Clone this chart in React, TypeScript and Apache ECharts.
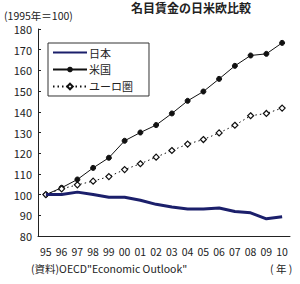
import React, { useEffect, useRef } from "react";
import * as echarts from "echarts";

const years = ["95", "96", "97", "98", "99", "00", "01", "02", "03", "04", "05", "06", "07", "08", "09", "10"];
const japan = [100, 100, 101.2, 100, 98.7, 98.7, 97.3, 95.3, 94, 93, 93, 93.5, 91.8, 91.2, 88.3, 89.3];
const usa = [100, 103.3, 107.3, 112.9, 117.8, 126, 130, 133.6, 139.2, 145.3, 149.8, 155.9, 162.2, 167.2, 168, 173.3];
const euro = [100, 102.8, 104.7, 106.5, 108.7, 112.1, 114.9, 118.1, 121.3, 124.4, 126.6, 129.8, 133.5, 138.1, 139.2, 141.8];
const yTicks = { min: 80, max: 180, interval: 10 };

const FONT = "'Noto Sans CJK JP', 'Noto Sans', sans-serif";

export default function App() {
  const ref = useRef<HTMLDivElement>(null);
  useEffect(() => {
    if (!ref.current) return;
    const chart = echarts.init(ref.current, null, { renderer: "svg" });
    chart.setOption({
      animation: false,
      backgroundColor: "#ffffff",
      textStyle: { fontFamily: FONT },
      title: {
        text: "名目賃金の日米欧比較",
        left: 191,
        textAlign: "center",
        top: 1,
        padding: 0,
        textStyle: { fontSize: 12, fontWeight: "bold", color: "#222", fontFamily: FONT },
      },
      grid: { left: 38, right: 10, top: 29, bottom: 48, containLabel: false },
      legend: {
        left: 48,
        top: 43,
        orient: "vertical",
        itemWidth: 34,
        itemHeight: 7,
        itemGap: 6,
        padding: [4, 16, 4, 4],
        borderColor: "#333",
        borderWidth: 1,
        backgroundColor: "#fff",
        textStyle: { fontSize: 11, color: "#222", fontFamily: FONT, padding: [0, 0, 0, -3] },
        data: [{ name: "日本", itemStyle: { opacity: 0 } }, "米国", "ユーロ圏"],
      },
      xAxis: {
        type: "category",
        data: years,
        boundaryGap: true,
        axisLine: { lineStyle: { color: "#222", width: 1 } },
        axisTick: { inside: true, length: 4, lineStyle: { color: "#222" } },
        axisLabel: { color: "#222", fontSize: 10.5, margin: 10, interval: 0, lineHeight: 11, fontFamily: FONT },
      },
      yAxis: {
        type: "value",
        min: yTicks.min,
        max: yTicks.max,
        interval: yTicks.interval,
        axisLine: { show: true, lineStyle: { color: "#222", width: 1 } },
        axisTick: { show: true, inside: true, length: 3, lineStyle: { color: "#222" } },
        splitLine: { show: false },
        axisLabel: { color: "#222", fontSize: 11, margin: 6, lineHeight: 11, fontFamily: FONT },
      },
      graphic: [
        {
          type: "text",
          left: 4,
          top: 9,
          style: { text: "(1995年＝100)", fontSize: 10.5, lineHeight: 12, fill: "#222", fontFamily: FONT },
        },
        {
          type: "text",
          left: 31,
          top: 263,
          style: { text: "(資料)OECD\"Economic Outlook\"", fontSize: 10.5, fill: "#222", fontFamily: FONT },
        },
        {
          type: "text",
          left: 270,
          top: 263,
          style: { text: "( 年 )", fontSize: 10.5, fill: "#222", fontFamily: FONT },
        },
      ],
      series: [
        {
          name: "日本",
          type: "line",
          data: japan,
          symbol: "none",
          lineStyle: { color: "#1b1f6b", width: 3 },
          itemStyle: { color: "#1b1f6b" },
          z: 3,
        },
        {
          name: "米国",
          type: "line",
          data: usa,
          symbol: "circle",
          symbolSize: 5,
          lineStyle: { color: "#111", width: 1 },
          itemStyle: { color: "#111", borderColor: "#111" },
          z: 2,
        },
        {
          name: "ユーロ圏",
          type: "line",
          data: euro,
          symbol: "diamond",
          symbolSize: 6,
          lineStyle: { color: "#111", width: 1, type: [1.5, 3] },
          itemStyle: { color: "#fff", borderColor: "#111", borderWidth: 1.2 },
          z: 2,
        },
      ],
    });
    return () => chart.dispose();
  }, []);
  return <div ref={ref} style={{ width: 300, height: 284, position: "fixed", left: 0, top: 0 }} />;
}
